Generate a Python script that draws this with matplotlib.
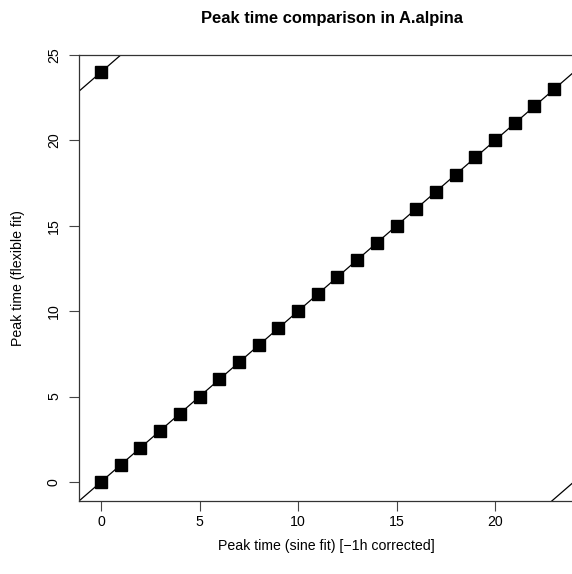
import matplotlib.pyplot as plt

plt.rcParams['font.family'] = ['Liberation Sans', 'DejaVu Sans']

sine_peak = list(range(24)) + [0]
flex_peak = list(range(24)) + [24]
xticks = [0, 5, 10, 15, 20]
yticks = [0, 5, 10, 15, 20, 25]

fig = plt.figure(figsize=(5.72, 5.74), dpi=100)
# plot region runs off the right edge, as in the original
x0, x1 = -1.12, 24.5
px_per_unit = 19.7
left = 79 / 572
width = (x1 - x0) * px_per_unit / 572
ax = fig.add_axes([left, 73 / 574, width, 446 / 574])

ax.plot(sine_peak, flex_peak, 's', color='black', markersize=8, zorder=3)
for off in (0, 24, -24):
    ax.axline((0, off), slope=1, color='black', lw=0.9)

ax.set_xlim(x0, x1)
ax.set_ylim(-1.12, 25)
ax.set_xticks(xticks)
ax.set_yticks(yticks)
ax.set_yticklabels([str(t) for t in yticks], rotation=90, va='center')
ax.tick_params(direction='out', length=7, width=0.8, labelsize=10.2, color='#444')
ax.tick_params(axis='x', pad=3)
ax.tick_params(axis='y', pad=6)
for s in ax.spines.values():
    s.set_linewidth(0.9)
    s.set_color('#333')

fig.text(332 / 572, 1 - 18 / 574, 'Peak time comparison in A.alpina',
         ha='center', va='center', fontsize=11.9, fontweight='bold')
fig.text(326 / 572, 1 - 546 / 574, 'Peak time (sine fit) [\u22121h corrected]',
         ha='center', va='center', fontsize=10.2)
fig.text(18 / 572, 1 - 278 / 574, 'Peak time (flexible fit)',
         ha='center', va='center', fontsize=10.2, rotation=90)

fig.savefig('out.png', dpi=100)
